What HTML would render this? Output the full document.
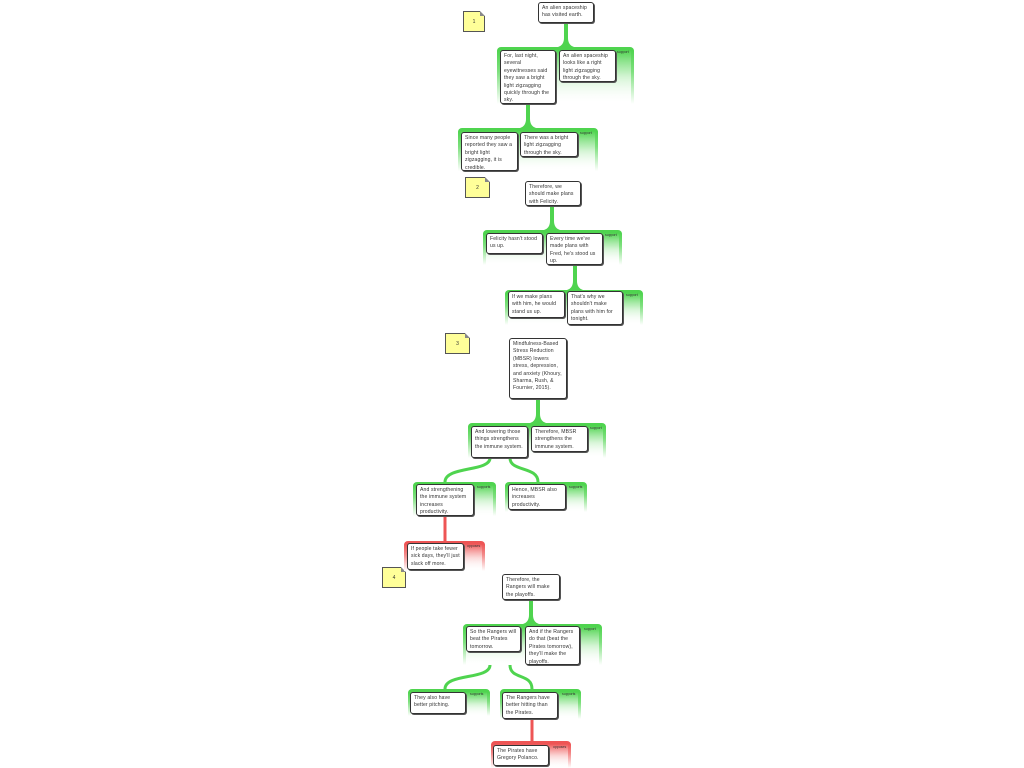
<!DOCTYPE html>
<html><head><meta charset="utf-8"><style>
body{margin:0;width:1024px;height:768px;background:#fff;position:relative;overflow:hidden;font-family:"Liberation Sans",sans-serif}
.n{position:absolute;background:#fff;border:1px solid #333;border-radius:3px;box-shadow:1px 1px 0 #555;font-size:5.1px;line-height:7.4px;letter-spacing:0.12px;color:#333;padding:2px 3px 1px 3px;box-sizing:border-box;overflow:hidden}
.g{position:absolute;border-radius:4px 4px 0 0;background:linear-gradient(#4fd44f 0,#7ee07e 40%,#fff 100%);border-top:3px solid #4fd44f;box-sizing:border-box}
.g::after{content:"";position:absolute;left:3px;right:3px;top:0;bottom:0;background:linear-gradient(rgba(255,255,255,0) 0,rgba(255,255,255,.6) 50%,#fff 100%)}
.g.r{background:linear-gradient(#ee5555 0,#f38a8a 40%,#fff 100%);border-top-color:#ee5555}
.lb{position:absolute;font-size:3.5px;color:#333;z-index:2}
.note{position:absolute;background:#ffff99;border:1px solid #555;font-size:5px;text-align:center;box-sizing:border-box;color:#333}
.note::after{content:"";position:absolute;right:-1px;top:-1px;border-style:solid;border-width:0 5px 5px 0;border-color:#fff #fff #888 #ccc}
.n{z-index:3}
svg{position:absolute;left:0;top:0;z-index:1}
</style></head><body>
<svg width="1024" height="768">
<g fill="#4fd44f">
<path d="M564 23 H568 V38 Q568 45 574 47 H558 Q564 45 564 38Z"/>
<path d="M526 104 H530 V119 Q530 126 536 128 H520 Q526 126 526 119Z"/>
<path d="M550 206 H554 V221 Q554 228 560 230 H544 Q550 228 550 221Z"/>
<path d="M573 265 H577 V281 Q577 288 583 290 H567 Q573 288 573 281Z"/>
<path d="M536 399 H540 V414 Q540 421 546 423 H530 Q536 421 536 414Z"/>
<path d="M529 600 H533 V615 Q533 622 539 624 H523 Q529 622 529 615Z"/>
</g>
<g fill="none" stroke="#4fd44f" stroke-width="3">
<path d="M490 458 C490 472 445 466 445 482"/><path d="M510 458 C510 472 538 466 538 482"/>
<path d="M490 665 C490 680 445 673 445 689"/><path d="M510 665 C510 680 532 673 532 689"/>
</g>
<g fill="none" stroke="#ee5555" stroke-width="3"><path d="M445 516 V541"/><path d="M532 719 V741"/></g>
</svg>
<div class="note" style="left:463px;top:11px;width:22px;height:21px;line-height:21px">1</div>
<div class="note" style="left:465px;top:177px;width:25px;height:21px;line-height:21px">2</div>
<div class="note" style="left:445px;top:333px;width:25px;height:21px;line-height:21px">3</div>
<div class="note" style="left:382px;top:567px;width:24px;height:21px;line-height:21px">4</div>

<div class="n" style="left:538px;top:2px;width:56px;height:21px">An alien spaceship has visited earth.</div>
<div class="g" style="left:497px;top:47px;width:137px;height:57px"></div><div class="lb" style="left:617px;top:50px">support</div>
<div class="n" style="left:500px;top:50px;width:56px;height:54px">For, last night, several eyewitnesses said they saw a bright light zigzagging quickly through the sky.</div>
<div class="n" style="left:559px;top:50px;width:57px;height:32px">An alien spaceship looks like a right light zigzagging through the sky.</div>

<div class="g" style="left:458px;top:128px;width:140px;height:43px"></div><div class="lb" style="left:580px;top:131px">support</div>
<div class="n" style="left:461px;top:132px;width:57px;height:39px">Since many people reported they saw a bright light zigzagging, it is credible.</div>
<div class="n" style="left:520px;top:132px;width:58px;height:25px">There was a bright light zigzagging through the sky.</div>

<div class="n" style="left:525px;top:181px;width:56px;height:25px">Therefore, we should make plans with Felicity.</div>
<div class="g" style="left:483px;top:230px;width:139px;height:35px"></div><div class="lb" style="left:605px;top:233px">support</div>
<div class="n" style="left:486px;top:233px;width:57px;height:21px">Felicity hasn't stood us up.</div>
<div class="n" style="left:546px;top:233px;width:57px;height:32px">Every time we've made plans with Fred, he's stood us up.</div>

<div class="g" style="left:505px;top:290px;width:138px;height:35px"></div><div class="lb" style="left:626px;top:293px">support</div>
<div class="n" style="left:508px;top:291px;width:57px;height:27px">If we make plans with him, he would stand us up.</div>
<div class="n" style="left:567px;top:291px;width:56px;height:34px">That's why we shouldn't make plans with him for tonight.</div>

<div class="n" style="left:509px;top:338px;width:58px;height:61px">Mindfulness-Based Stress Reduction (MBSR) lowers stress, depression, and anxiety (Khoury, Sharma, Rush, &amp; Fournier, 2015).</div>
<div class="g" style="left:468px;top:423px;width:138px;height:35px"></div><div class="lb" style="left:590px;top:426px">support</div>
<div class="n" style="left:471px;top:426px;width:57px;height:32px">And lowering those things strengthens the immune system.</div>
<div class="n" style="left:531px;top:426px;width:57px;height:26px">Therefore, MBSR strengthens the immune system.</div>

<div class="g" style="left:413px;top:482px;width:83px;height:34px"></div><div class="lb" style="left:477px;top:485px">supports</div>
<div class="n" style="left:416px;top:484px;width:58px;height:32px">And strengthening the immune system increases productivity.</div>
<div class="g" style="left:505px;top:482px;width:82px;height:30px"></div><div class="lb" style="left:569px;top:485px">supports</div>
<div class="n" style="left:508px;top:484px;width:58px;height:26px">Hence, MBSR also increases productivity.</div>

<div class="g r" style="left:404px;top:541px;width:81px;height:30px"></div><div class="lb" style="left:467px;top:544px">opposes</div>
<div class="n" style="left:407px;top:543px;width:57px;height:27px">If people take fewer sick days, they'll just slack off more.</div>

<div class="n" style="left:502px;top:574px;width:58px;height:26px">Therefore, the Rangers will make the playoffs.</div>
<div class="g" style="left:463px;top:624px;width:139px;height:41px"></div><div class="lb" style="left:584px;top:627px">support</div>
<div class="n" style="left:466px;top:626px;width:55px;height:26px">So the Rangers will beat the Pirates tomorrow.</div>
<div class="n" style="left:525px;top:626px;width:55px;height:39px">And if the Rangers do that (beat the Pirates tomorrow), they'll make the playoffs.</div>

<div class="g" style="left:408px;top:689px;width:82px;height:27px"></div><div class="lb" style="left:470px;top:692px">supports</div>
<div class="n" style="left:410px;top:692px;width:56px;height:22px">They also have better pitching.</div>
<div class="g" style="left:500px;top:689px;width:81px;height:30px"></div><div class="lb" style="left:562px;top:692px">supports</div>
<div class="n" style="left:502px;top:692px;width:56px;height:27px">The Rangers have better hitting than the Pirates.</div>

<div class="g r" style="left:491px;top:741px;width:80px;height:27px"></div><div class="lb" style="left:553px;top:745px">opposes</div>
<div class="n" style="left:493px;top:745px;width:56px;height:21px">The Pirates have Gregory Polanco.</div>
</body></html>
